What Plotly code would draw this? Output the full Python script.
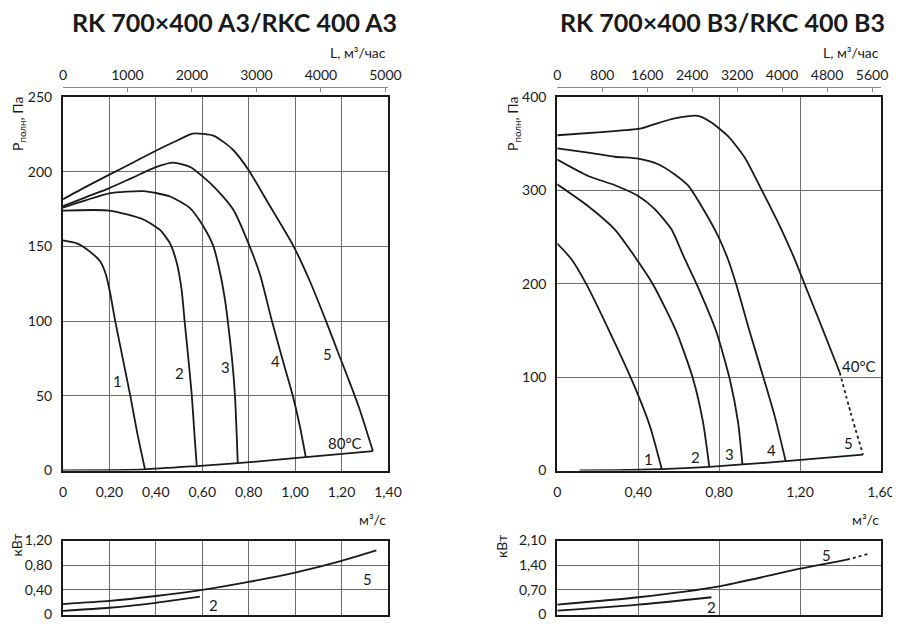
import plotly.graph_objects as go

# ---- RK 700x400 A3 / RKC 400 A3 (left) ----
a1_q = [0, 0.06, 0.116, 0.16, 0.185, 0.203, 0.225, 0.26, 0.29, 0.32, 0.353]
a1_p = [154, 152, 146.5, 140, 131, 119, 100, 73, 50, 25, 1]
a2_q = [0, 0.2, 0.346, 0.418, 0.461, 0.49, 0.511, 0.524, 0.54, 0.555, 0.566, 0.576]
a2_p = [174, 174, 168, 161, 152, 139, 121, 100, 75, 50, 25, 3.5]
a3_q = [0, 0.1, 0.2, 0.346, 0.461, 0.547, 0.605, 0.648, 0.677, 0.698, 0.71, 0.728, 0.741, 0.748, 0.753]
a3_p = [176, 181, 185.5, 187, 183.4, 175.6, 163.3, 150, 132, 114, 100, 75, 50, 25, 4.5]
a4_q = [0, 0.1, 0.2, 0.3, 0.4, 0.475, 0.55, 0.6, 0.662, 0.734, 0.799, 0.849, 0.9, 0.95, 0.99, 1.02, 1.046]
a4_p = [177, 183, 189, 196, 203, 206, 203, 197, 188, 174.5, 152, 131, 100, 72, 50, 30, 9]
a5_q = [0, 0.1, 0.2, 0.3, 0.4, 0.48, 0.56, 0.65, 0.73, 0.8, 0.88, 0.99, 1.06, 1.137, 1.19, 1.24, 1.28, 1.335]
a5_p = [181.5, 190, 198, 206, 214, 220, 225.5, 224, 215, 201, 180, 151, 128, 98.5, 77, 57, 40, 13]
a_sys_q = [0, 0.2, 0.353, 0.576, 0.753, 1.046, 1.335]
a_sys_p = [0, 0.3, 0.8, 3, 4.9, 8.9, 13]

# power, kW
a_n5_q = [0, 0.2, 0.4, 0.6, 0.8, 1.0, 1.2, 1.35]
a_n5 = [0.17, 0.22, 0.30, 0.40, 0.53, 0.68, 0.87, 1.04]
a_n2_q = [0, 0.2, 0.4, 0.59]
a_n2 = [0.06, 0.11, 0.19, 0.29]

# ---- RK 700x400 B3 / RKC 400 B3 (right) ----
b1_q = [0, 0.071, 0.145, 0.26, 0.367, 0.458, 0.516]
b1_p = [243, 226, 199, 148, 97.5, 47.5, 2]
b2_q = [0, 0.153, 0.285, 0.38, 0.474, 0.59, 0.672, 0.721, 0.751]
b2_p = [306.5, 283, 258, 230, 199, 148, 97.5, 51, 4.6]
b3_q = [0, 0.153, 0.285, 0.4, 0.482, 0.565, 0.625, 0.69, 0.787, 0.853, 0.894, 0.915]
b3_p = [333, 315.4, 305.5, 294, 280, 258, 229, 199, 148, 97.5, 51, 7]
b4_q = [0, 0.153, 0.285, 0.4, 0.499, 0.581, 0.647, 0.713, 0.795, 0.844, 0.885, 0.952, 1.017, 1.075, 1.129]
b4_p = [345, 340.5, 336, 334, 328, 317, 305, 283, 251, 226, 199, 148, 101, 58, 10]
b5_q = [0, 0.236, 0.408, 0.482, 0.581, 0.696, 0.762, 0.844, 0.927, 1.009, 1.108, 1.17, 1.22, 1.314, 1.396]
b5_p = [359, 362.6, 366, 371, 377, 379.7, 372.6, 358, 335, 301, 258, 228, 201, 150, 105]
b5_dot_q = [1.396, 1.45, 1.511]
b5_dot_p = [105, 62, 17]
b_sys_q = [0.11, 0.3, 0.516, 0.751, 0.915, 1.129, 1.511]
b_sys_p = [0, 0.3, 1.5, 4, 6.5, 10, 17]

b_n5_q = [0, 0.4, 0.8, 1.2, 1.432]
b_n5 = [0.28, 0.49, 0.8, 1.3, 1.56]
b_n5_dot_q = [1.432, 1.539]
b_n5_dot = [1.56, 1.72]
b_n2_q = [0, 0.4, 0.762]
b_n2 = [0.11, 0.28, 0.49]

# ticks
a_q_ticks = [0, 0.2, 0.4, 0.6, 0.8, 1.0, 1.2, 1.4]
a_q_text = ["0", "0,20", "0,40", "0,60", "0,80", "1,00", "1,20", "1,40"]
a_l_ticks = [0, 1000, 2000, 3000, 4000, 5000]
a_p_ticks = [0, 50, 100, 150, 200, 250]
a_n_ticks = [0, 0.4, 0.8, 1.2]
a_n_text = ["0", "0,40", "0,80", "1,20"]

b_q_ticks = [0, 0.4, 0.8, 1.2, 1.6]
b_q_text = ["0", "0,40", "0,80", "1,20", "1,60"]
b_l_ticks = [0, 800, 1600, 2400, 3200, 4000, 4800, 5600]
b_p_ticks = [0, 100, 200, 300, 400]
b_n_ticks = [0, 0.7, 1.4, 2.1]
b_n_text = ["0", "0,70", "1,40", "2,10"]

INK = "#1a1a1a"
GRID = "#6e6e6e"
FONT = "Lato"

fig = go.Figure()


def curve(q, p, xa, ya, dash="solid"):
    fig.add_trace(go.Scatter(
        x=q, y=p, xaxis=xa, yaxis=ya, mode="lines",
        line={"color": INK, "width": 1.8, "shape": "spline", "smoothing": 0.6, "dash": dash},
        hoverinfo="skip", showlegend=False))


for q, p in [(a1_q, a1_p), (a2_q, a2_p), (a3_q, a3_p), (a4_q, a4_p), (a5_q, a5_p), (a_sys_q, a_sys_p)]:
    curve(q, p, "x", "y")
curve(a_n5_q, a_n5, "x3", "y3")
curve(a_n2_q, a_n2, "x3", "y3")

for q, p in [(b1_q, b1_p), (b2_q, b2_p), (b3_q, b3_p), (b4_q, b4_p), (b5_q, b5_p), (b_sys_q, b_sys_p)]:
    curve(q, p, "x4", "y4")
curve(b5_dot_q, b5_dot_p, "x4", "y4", dash="dot")
curve(b_n5_q, b_n5, "x6", "y6")
curve(b_n5_dot_q, b_n5_dot, "x6", "y6", dash="dot")
curve(b_n2_q, b_n2, "x6", "y6")

# empty traces so the top (m3/h) axes get drawn
fig.add_trace(go.Scatter(x=[None], y=[None], xaxis="x2", yaxis="y", showlegend=False, hoverinfo="skip"))
fig.add_trace(go.Scatter(x=[None], y=[None], xaxis="x5", yaxis="y4", showlegend=False, hoverinfo="skip"))

# page body adds 8px around the figure, so domains are shifted up/left
dom_a = [0.0611, 0.4222]
dom_b = [0.6103, 0.97]
dom_main = [0.267, 0.859]
dom_small = [0.0388, 0.1561]

tickfont = {"family": FONT, "size": 14, "color": INK}
frame = {"showline": True, "linecolor": INK, "linewidth": 2, "mirror": True,
         "showgrid": True, "gridcolor": GRID, "gridwidth": 1, "zeroline": False,
         "ticks": "", "tickfont": tickfont, "fixedrange": True, "automargin": False}
top = {"side": "top", "anchor": "free", "position": 0.8748, "showline": True,
       "linecolor": "#888", "linewidth": 1, "ticks": "inside", "ticklen": 4,
       "tickcolor": "#888", "showgrid": False, "zeroline": False,
       "tickfont": tickfont, "ticklabelstandoff": 1, "automargin": False}

fig.update_layout(
    width=900, height=631,
    margin={"l": 0, "r": 0, "t": 0, "b": 0, "autoexpand": False},
    paper_bgcolor="white", plot_bgcolor="white",
    font={"family": FONT, "color": INK},
    xaxis=dict(frame, domain=dom_a, anchor="y", range=[0, 1.4],
               tickvals=a_q_ticks, ticktext=a_q_text, ticklabelstandoff=8),
    yaxis=dict(frame, domain=dom_main, anchor="x", range=[0, 250],
               tickvals=a_p_ticks, ticklabelstandoff=6),
    xaxis2=dict(top, overlaying="x", domain=dom_a, range=[0, 1.4 * 3600],
                tickvals=a_l_ticks),
    xaxis3=dict(frame, domain=dom_a, anchor="y3", range=[0, 1.4],
                tickvals=a_q_ticks, showticklabels=False),
    yaxis3=dict(frame, domain=dom_small, anchor="x3", range=[0, 1.2],
                tickvals=a_n_ticks, ticktext=a_n_text, ticklabelstandoff=6),
    xaxis4=dict(frame, domain=dom_b, anchor="y4", range=[0, 1.6],
                tickvals=b_q_ticks, ticktext=b_q_text, ticklabelstandoff=8),
    yaxis4=dict(frame, domain=dom_main, anchor="x4", range=[0, 400],
                tickvals=b_p_ticks, ticklabelstandoff=6),
    xaxis5=dict(top, overlaying="x4", domain=dom_b, range=[0, 1.6 * 3600],
                tickvals=b_l_ticks),
    xaxis6=dict(frame, domain=dom_b, anchor="y6", range=[0, 1.6],
                tickvals=b_q_ticks, showticklabels=False),
    yaxis6=dict(frame, domain=dom_small, anchor="x6", range=[0, 2.1],
                tickvals=b_n_ticks, ticktext=b_n_text, ticklabelstandoff=6),
)

lab = {"family": FONT, "size": 15, "color": INK}


def note(text, x, y, xref, yref, **kw):
    kw.setdefault("xanchor", "center")
    kw.setdefault("yanchor", "middle")
    fig.add_annotation(text=text, x=x, y=y, xref=xref, yref=yref,
                       showarrow=False, font=kw.pop("font", lab), **kw)


# titles and axis captions
title_font = {"family": FONT, "size": 25, "color": INK}
note("<b>RK 700×400 A3/RKC 400 A3</b>", 0.2522, 0.9778, "paper", "paper", font=title_font)
note("<b>RK 700×400 B3/RKC 400 B3</b>", 0.7944, 0.9778, "paper", "paper", font=title_font)
for x_right in [dom_a[1], dom_b[1]]:
    note("L, м³/час", x_right, 0.9287, "paper", "paper", xanchor="right", font=tickfont)
    note("м³/с", x_right, 0.1886, "paper", "paper", xanchor="right", font=tickfont)
note("Р<sub>полн</sub>, Па", 0.0111, 0.8621, "paper", "paper", textangle=-90, yanchor="top", font=tickfont)
note("Р<sub>полн</sub>, Па", 0.5611, 0.8621, "paper", "paper", textangle=-90, yanchor="top", font=tickfont)
note("кВт", 0.0095, 0.149, "paper", "paper", textangle=-90, font=tickfont)
note("кВт", 0.5489, 0.146, "paper", "paper", textangle=-90, font=tickfont)

# curve numbers, left
for t, x, y in [("1", 0.234, 60), ("2", 0.5, 65), ("3", 0.698, 69), ("4", 0.914, 73), ("5", 1.14, 78)]:
    note(t, x, y, "x", "y")
note("80°C", 1.215, 18.6, "x", "y")
note("2", 0.648, 0.15, "x3", "y3")
note("5", 1.31, 0.58, "x3", "y3")

# curve numbers, right
for t, x, y in [("1", 0.453, 12.5), ("2", 0.683, 14.7), ("3", 0.85, 18), ("4", 1.059, 21.8), ("5", 1.437, 29)]:
    note(t, x, y, "x4", "y4")
note("40°C", 1.49, 112, "x4", "y4")
note("2", 0.762, 0.2, "x6", "y6")
note("5", 1.33, 1.7, "x6", "y6")

fig.write_html("out.html")
